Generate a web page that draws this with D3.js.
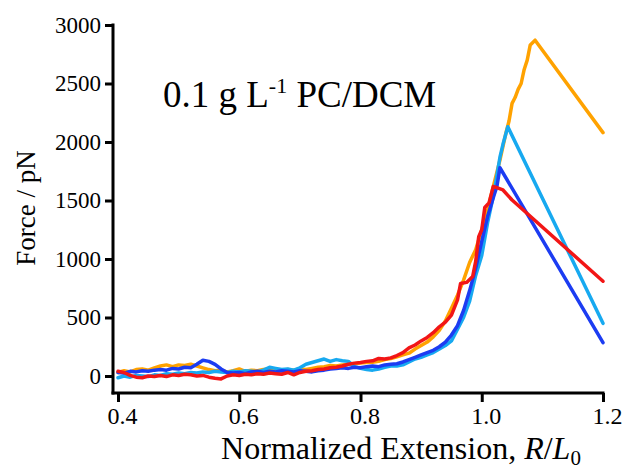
<!DOCTYPE html>
<html>
<head>
<meta charset="utf-8">
<script src="https://cdn.jsdelivr.net/npm/d3@7"></script>
<style>
html,body{margin:0;padding:0;background:#fff;}
svg{display:block;}
svg text{font-family:"Liberation Serif","Times New Roman",serif;}
</style>
</head>
<body>
<svg id="chart" width="622" height="469"></svg>
<script>
// ---- data (Normalized extension R/L0, Force pN) ----
const xTicks = [0.4, 0.6, 0.8, 1.0, 1.2];
const yTicks = [0, 500, 1000, 1500, 2000, 2500, 3000];
const titleText = "0.1 g L";
const titleSup = "-1";
const titleRest = " PC/DCM";

const orange = [
 [0.40,30],[0.41,45],[0.42,35],[0.43,55],[0.44,60],[0.45,50],[0.46,70],[0.47,85],[0.48,95],[0.49,80],
 [0.50,95],[0.51,90],[0.52,100],[0.53,85],[0.54,70],[0.55,55],[0.56,45],[0.57,50],[0.58,35],[0.59,45],
 [0.60,60],[0.61,40],[0.62,50],[0.63,45],[0.64,55],[0.65,60],[0.66,50],[0.67,45],[0.68,55],[0.69,50],
 [0.70,60],[0.71,55],[0.72,65],[0.73,75],[0.74,80],[0.75,90],[0.76,85],[0.77,95],[0.78,100],[0.79,105],
 [0.80,110],[0.81,115],[0.82,118],[0.83,125],[0.84,140],[0.85,150],[0.86,165],[0.87,180],[0.88,195],[0.89,230],
 [0.90,260],[0.91,290],[0.92,335],[0.93,390],[0.94,470],[0.95,580],[0.96,690],[0.97,820],[0.98,970],[0.99,1080],
 [1.00,1250],[1.01,1430],[1.02,1640],[1.03,1845],[1.04,2080],[1.045,2180],[1.05,2330],[1.055,2380],[1.06,2450],
 [1.065,2500],[1.07,2620],[1.075,2700],[1.08,2830],[1.088,2870],[1.2,2080]
];
const lightBlue = [
 [0.40,-15],[0.41,0],[0.42,-10],[0.43,5],[0.44,0],[0.45,-5],[0.46,10],[0.47,5],[0.48,20],[0.49,15],
 [0.50,25],[0.51,20],[0.52,30],[0.53,25],[0.54,35],[0.55,30],[0.56,40],[0.57,35],[0.58,30],[0.59,40],
 [0.60,35],[0.61,45],[0.62,40],[0.63,35],[0.64,50],[0.65,75],[0.66,65],[0.67,55],[0.68,60],[0.69,50],
 [0.70,70],[0.71,100],[0.72,115],[0.73,130],[0.74,145],[0.75,125],[0.76,140],[0.77,130],[0.78,125],[0.79,80],
 [0.80,65],[0.81,55],[0.82,50],[0.83,60],[0.84,75],[0.85,85],[0.86,85],[0.87,95],[0.88,120],[0.89,145],
 [0.90,160],[0.91,180],[0.92,200],[0.93,230],[0.94,260],[0.95,300],[0.96,400],[0.97,500],[0.98,640],[0.99,860],
 [1.00,1030],[1.01,1320],[1.02,1560],[1.03,1870],[1.035,1980],[1.043,2130],[1.2,450]
];
const blue = [
 [0.40,30],[0.41,25],[0.42,40],[0.43,35],[0.44,45],[0.45,40],[0.46,50],[0.47,55],[0.48,50],[0.49,65],
 [0.50,60],[0.51,75],[0.52,70],[0.53,100],[0.54,135],[0.55,125],[0.56,100],[0.57,60],[0.58,30],[0.59,25],
 [0.60,30],[0.61,20],[0.62,35],[0.63,40],[0.64,30],[0.65,40],[0.66,35],[0.67,45],[0.68,40],[0.69,35],
 [0.70,45],[0.71,40],[0.72,35],[0.73,45],[0.74,50],[0.75,60],[0.76,65],[0.77,70],[0.78,65],[0.79,75],
 [0.80,70],[0.81,80],[0.82,85],[0.83,80],[0.84,95],[0.85,100],[0.86,105],[0.87,120],[0.88,140],[0.89,160],
 [0.90,180],[0.91,200],[0.92,220],[0.93,250],[0.94,290],[0.95,350],[0.96,430],[0.97,560],[0.98,730],[0.99,920],
 [1.00,1150],[1.01,1370],[1.02,1540],[1.025,1620],[1.03,1780],[1.2,285]
];
const red = [
 [0.40,40],[0.41,30],[0.42,5],[0.43,-10],[0.44,-15],[0.45,0],[0.46,-5],[0.47,5],[0.48,-5],[0.49,10],
 [0.50,5],[0.51,15],[0.52,10],[0.53,0],[0.54,5],[0.55,-10],[0.56,-20],[0.57,-25],[0.58,0],[0.59,10],
 [0.60,5],[0.61,15],[0.62,10],[0.63,20],[0.64,15],[0.65,25],[0.66,20],[0.67,15],[0.68,30],[0.69,10],
 [0.70,30],[0.71,40],[0.72,45],[0.73,55],[0.74,60],[0.75,70],[0.76,75],[0.77,85],[0.78,100],[0.79,110],
 [0.80,115],[0.81,125],[0.82,130],[0.83,150],[0.84,145],[0.85,155],[0.86,175],[0.87,200],[0.88,240],[0.89,265],
 [0.90,300],[0.91,330],[0.92,370],[0.93,420],[0.94,460],[0.95,520],[0.96,650],[0.965,790],[0.975,800],[0.985,850],
 [0.99,980],[0.995,1190],[1.00,1250],[1.005,1440],[1.012,1480],[1.019,1620],[1.035,1590],[1.05,1504],[1.2,810]
];
const seriesList = [
  {name:"orange", color:"#FFA200", data:orange},
  {name:"lightBlue", color:"#17A9F0", data:lightBlue},
  {name:"blue", color:"#1C3CF2", data:blue},
  {name:"red", color:"#F21616", data:red}
];

// ---- drawing ----
const FONT = "'Liberation Serif','Times New Roman',serif";
const svg = d3.select("#chart");
const x = d3.scaleLinear().domain([0.4, 1.2]).range([118, 603]);
const y = d3.scaleLinear().domain([0, 3000]).range([376, 25]);
const axisX0 = 113, axisY0 = 393;

const line = d3.line().x(d => x(d[0])).y(d => y(d[1]));
svg.append("g").selectAll("path").data(seriesList).join("path")
  .attr("d", d => line(d.data))
  .attr("fill", "none")
  .attr("stroke", d => d.color)
  .attr("stroke-width", 3.5)
  .attr("stroke-linejoin", "round")
  .attr("stroke-linecap", "round");

// axes
const yAxis = svg.append("g").attr("transform", `translate(${axisX0},0)`)
  .call(d3.axisLeft(y).tickValues(yTicks).tickSize(8).tickPadding(4).tickFormat(d3.format("d")));
const xAxis = svg.append("g").attr("transform", `translate(0,${axisY0})`)
  .call(d3.axisBottom(x).tickValues(xTicks).tickSize(9).tickPadding(5).tickFormat(d3.format(".1f")));
[yAxis, xAxis].forEach(g => {
  g.attr("font-family", FONT).attr("font-size", 23);
  g.select(".domain").remove();
  g.selectAll(".tick line").attr("stroke", "#000").attr("stroke-width", 3);
  g.selectAll(".tick text").attr("fill", "#000").attr("font-family", FONT).style("font-size", "23px");
});
xAxis.selectAll(".tick text").attr("dx", 4).style("font-size", "24px");
svg.append("line").attr("x1", axisX0).attr("x2", axisX0).attr("y1", y(3000) - 1.5).attr("y2", axisY0 + 1.5)
  .attr("stroke", "#000").attr("stroke-width", 3);
svg.append("line").attr("x1", axisX0 - 1.5).attr("x2", x(1.2) + 1.5).attr("y1", axisY0).attr("y2", axisY0)
  .attr("stroke", "#000").attr("stroke-width", 3);

// axis titles
const xt = svg.append("text").attr("x", 401).attr("y", 459).attr("text-anchor", "middle")
  .attr("font-family", FONT).style("font-size", "32px").attr("fill", "#000");
xt.append("tspan").text("Normalized Extension, ");
xt.append("tspan").style("font-style", "italic").text("R");
xt.append("tspan").text("/");
xt.append("tspan").style("font-style", "italic").text("L");
xt.append("tspan").attr("dy", 6).style("font-size", "21px").text("0");

svg.append("text").attr("transform", "translate(35,208) rotate(-90)").attr("text-anchor", "middle")
  .attr("font-family", FONT).style("font-size", "27px").attr("fill", "#000").text("Force / pN");

// in-plot title
const tt = svg.append("text").attr("x", 163).attr("y", 107)
  .attr("font-family", FONT).style("font-size", "37px").attr("fill", "#000");
tt.append("tspan").text(titleText);
tt.append("tspan").attr("dy", -14).style("font-size", "22px").text(titleSup);
tt.append("tspan").attr("dy", 14).text(titleRest);
</script>
</body>
</html>
